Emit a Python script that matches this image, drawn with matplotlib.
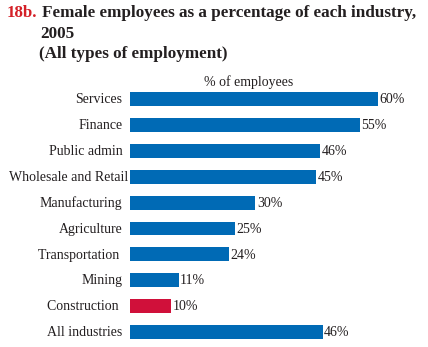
import matplotlib.pyplot as plt
import numpy as np

industries = ['Services', 'Finance', 'Public admin', 'Wholesale and Retail',
              'Manufacturing', 'Agriculture', 'Transportation ', 'Mining',
              'Construction ', 'All industries']
pct_female = [60.0, 55.7, 46.0, 45.1, 30.4, 25.4, 24.0, 11.8, 10.0, 46.7]
pct_labels = ['60%', '55%', '46%', '45%', '30%', '25%', '24%', '11%', '10%', '46%']

blue = '#006AB5'
red = '#D0103A'
txt = '#231F20'

plt.rcParams['font.family'] = ['Liberation Serif', 'DejaVu Serif']

W, H = 428, 347
fig = plt.figure(figsize=(W / 100, H / 100), dpi=100)
fig.patch.set_facecolor('white')

# axes placed in pixels: bars start at x=130, 25.9 px per row
row = 25.9
top = 99 - row / 2
ax = fig.add_axes([130 / W, 1 - (top + 10 * row) / H, 290 / W, 10 * row / H])
ax.set_xlim(0, 290 / 4.128)
ax.set_ylim(9.5, -0.5)
ax.axis('off')

y = np.arange(len(industries))
colors = [red if name.strip() == 'Construction' else blue for name in industries]
ax.barh(y, pct_female, height=0.54, color=colors)

for yi, v, lab, name in zip(y, pct_female, pct_labels, industries):
    ax.annotate(lab, (v, yi), xytext=(1, -0.5), textcoords='offset points',
                ha='left', va='center', fontsize=10, color=txt, clip_on=False)
    # the long label sits closer to its bar in the original
    pad = -1.5 if name == 'Wholesale and Retail' else -5.5
    ax.annotate(name, (0, yi), xytext=(pad, -0.5), textcoords='offset points',
                ha='right', va='center', fontsize=10, color=txt, clip_on=False)

fig.text(248.5 / W, 1 - 86 / H, '% of employees', ha='center', va='baseline',
         fontsize=10, color=txt)

# title
fig.text(6.5 / W, 1 - 17.3 / H, '18b.', ha='left', va='baseline', fontsize=12.2,
         fontweight='bold', color='#D42027')
fig.text(41.5 / W, 1 - 17.3 / H, 'Female employees as a percentage of each industry,',
         ha='left', va='baseline', fontsize=12.3, fontweight='bold', color=txt)
fig.text(40 / W, 1 - 38.3 / H, '2005', ha='left', va='baseline', fontsize=12.3,
         fontweight='bold', color=txt)
fig.text(39 / W, 1 - 58.5 / H, '(All types of employment)', ha='left', va='baseline',
         fontsize=12.3, fontweight='bold', color=txt)

fig.savefig('out.png', dpi=100)
